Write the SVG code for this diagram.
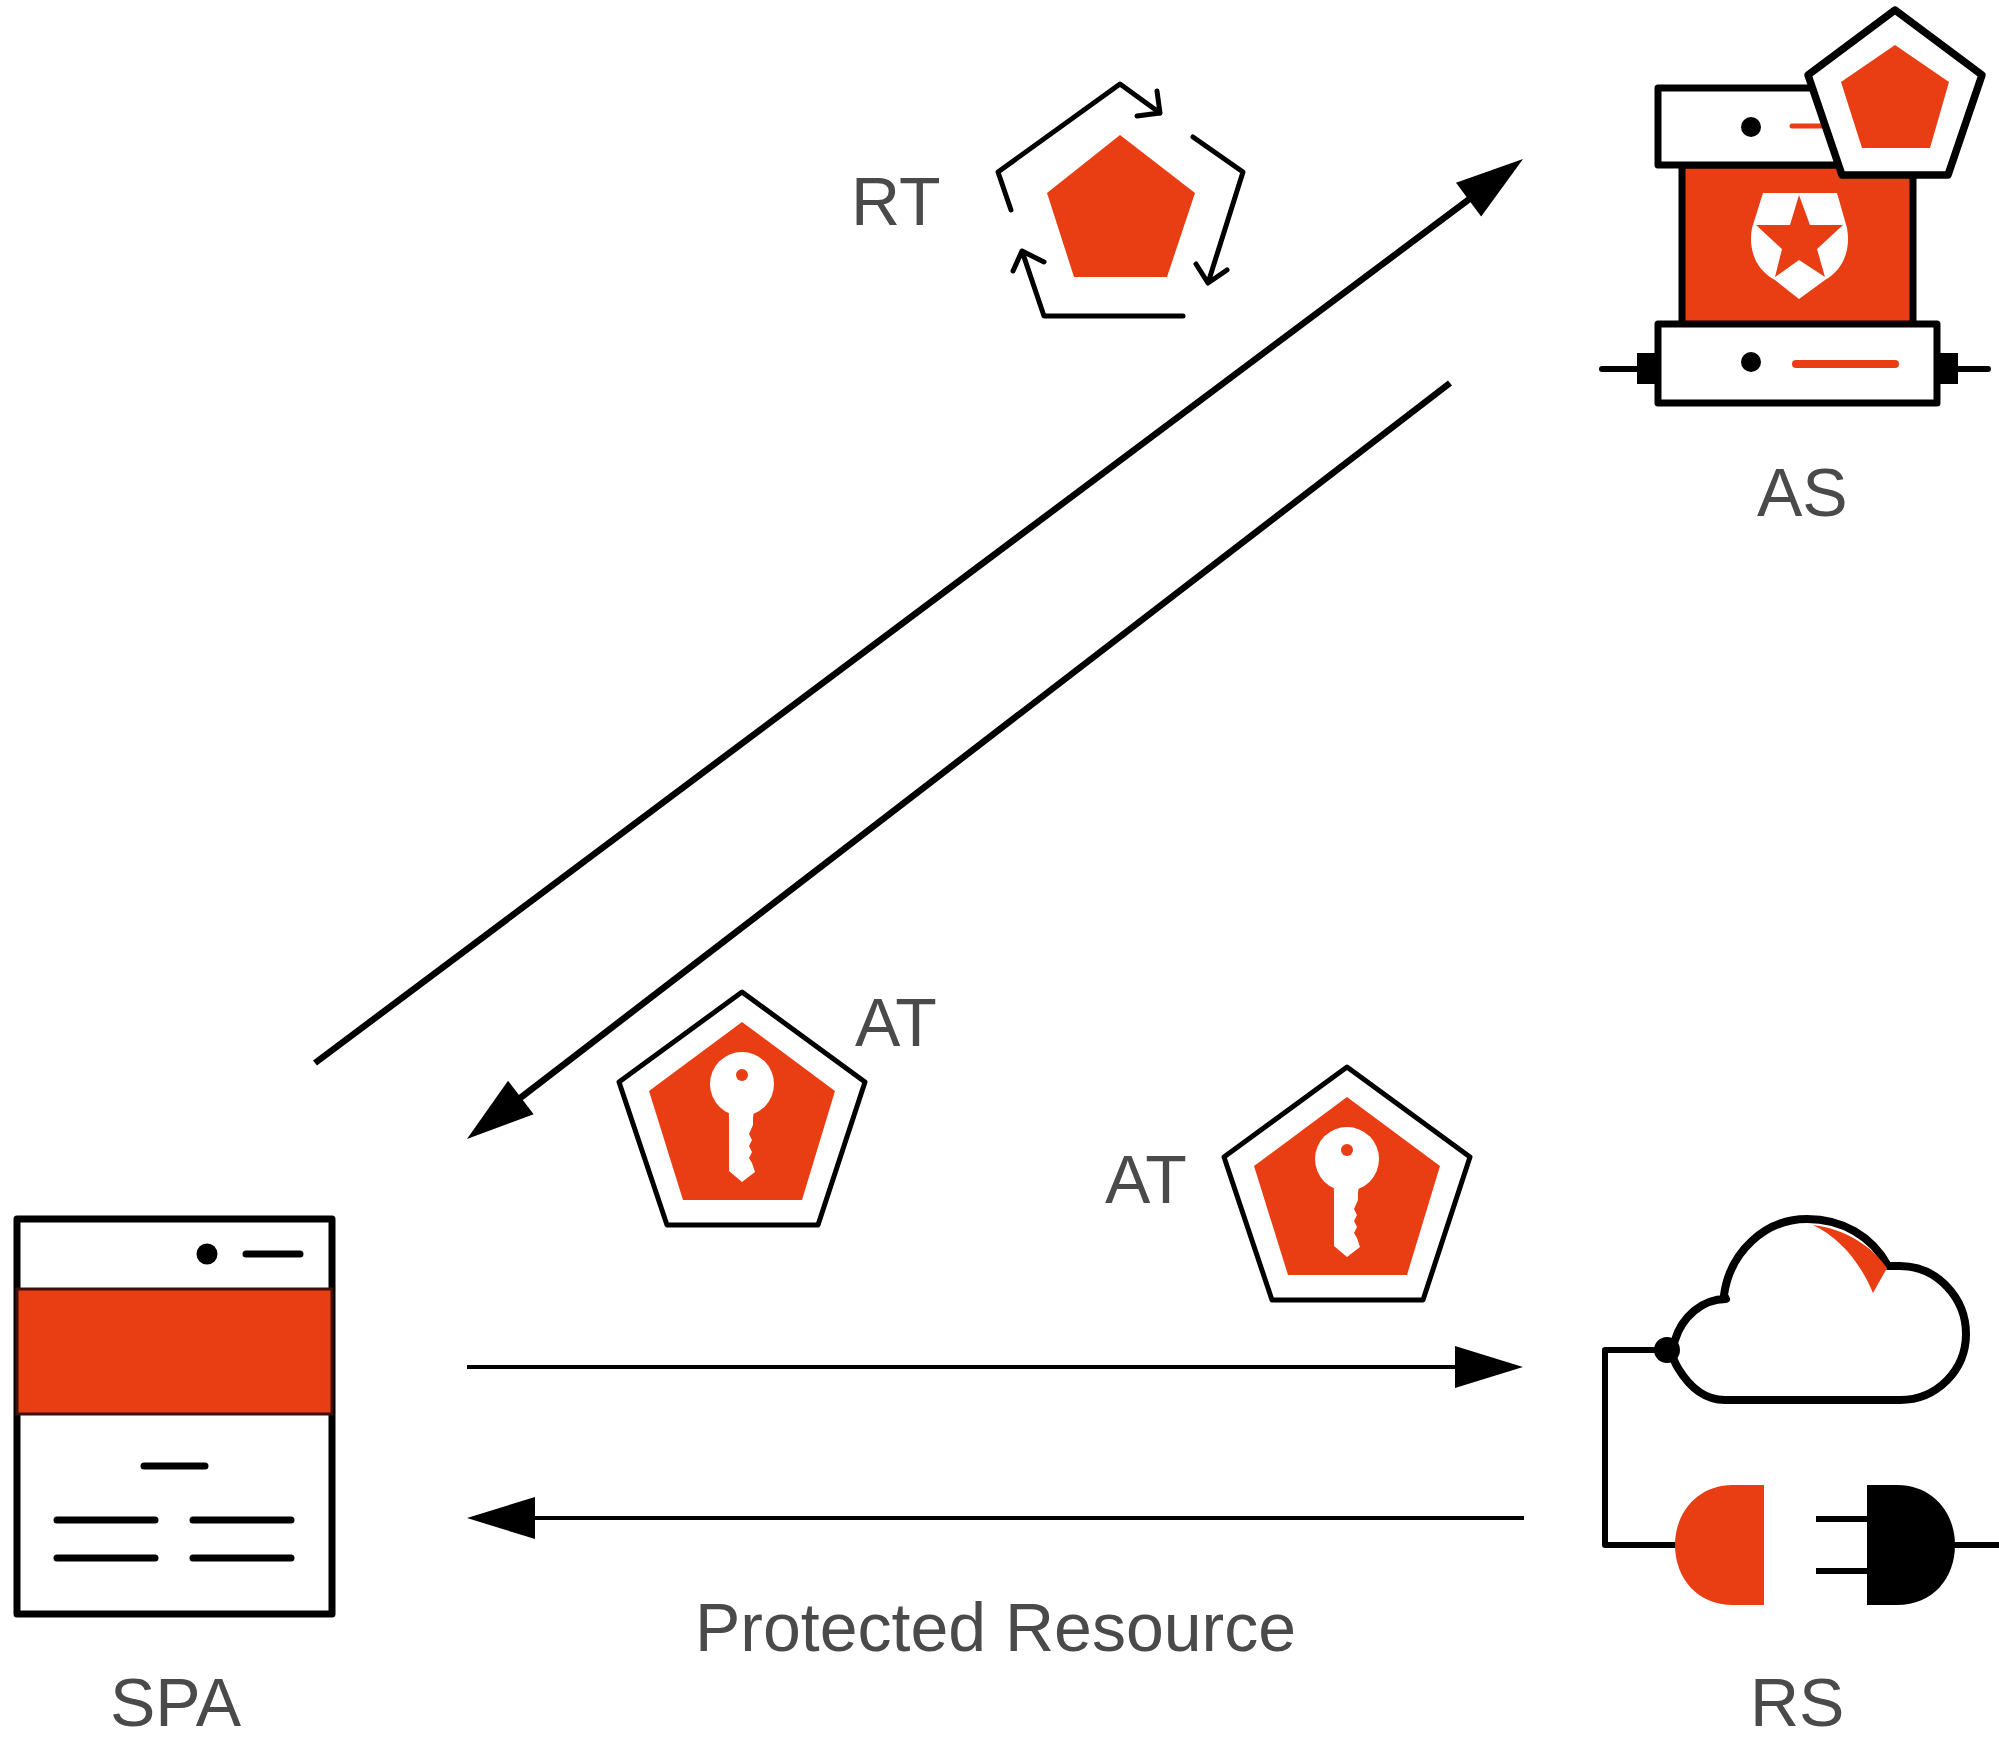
<svg xmlns="http://www.w3.org/2000/svg" width="1999" height="1738" viewBox="0 0 1999 1738">
<style>
.t{font-family:"Liberation Sans",Arial,sans-serif;font-size:68px;fill:#4a4a4a}
.o{fill:#e93d14}
.k{fill:#000}
.s{fill:none;stroke:#000;stroke-linecap:round;stroke-linejoin:round}
.box{fill:#fff;stroke:#000;stroke-width:7;stroke-linejoin:round}
.conn{fill:none;stroke:#000}
</style>
<defs>
<marker id="head" markerUnits="userSpaceOnUse" markerWidth="70" markerHeight="44" refX="20" refY="22" orient="auto" viewBox="0 0 68 44"><path d="M0 1L68 22L0 43Z" fill="#000"/></marker>
<g id="tokenKey">
<polygon points="742,992 865,1082 818,1225 667,1225 619,1082" fill="#fff" stroke="#000" stroke-width="5" stroke-linejoin="round"/>
<polygon class="o" points="742,1022 835,1091 802,1200 683,1200 649,1091"/>
<circle cx="742" cy="1084" r="32" fill="#fff"/>
<path d="M728 1105Q729 1111 729 1118V1171L742 1182L755 1172L752 1163L749 1158L752 1152L749 1146L752 1140L749 1134L753 1125V1118Q753 1111 756 1105Z" fill="#fff"/>
<circle class="o" cx="742" cy="1075" r="6"/>
</g>
</defs>
<rect width="1999" height="1738" fill="#fff"/>
<g id="connectors">
<line class="conn" stroke-width="6.5" x1="315" y1="1063" x2="1484.6" y2="187.7" marker-end="url(#head)"/>
<line class="conn" stroke-width="6.5" x1="1450" y1="383" x2="505" y2="1109.7" marker-end="url(#head)"/>
<line class="conn" stroke-width="4" x1="467" y1="1367" x2="1475" y2="1367" marker-end="url(#head)"/>
<line class="conn" stroke-width="4" x1="1524" y1="1518" x2="515" y2="1518" marker-end="url(#head)"/>
</g>
<g id="as">
<path class="s" stroke-width="6" d="M1602 369H1640M1940 369H1988"/>
<rect class="k" x="1637" y="353" width="23" height="31"/>
<rect class="k" x="1936" y="353" width="22" height="31"/>
<rect x="1682" y="165" width="231" height="160" fill="#e93d14" stroke="#000" stroke-width="7"/>
<rect class="box" x="1658" y="88" width="200" height="77"/>
<rect class="box" x="1658" y="324" width="279" height="79"/>
<circle class="k" cx="1751" cy="127" r="10"/>
<circle class="k" cx="1751" cy="362" r="10"/>
<path fill="none" stroke="#e93d14" stroke-width="5" stroke-linecap="round" d="M1792 126H1825"/>
<path fill="none" stroke="#e93d14" stroke-width="8" stroke-linecap="round" d="M1796 364H1895"/>
<path fill="#fff" d="M1763 193H1837L1847 228C1851 250 1843 270 1825 280L1799 299L1775 280C1756 270 1748 250 1752 228Z"/>
<polygon class="o" points="1799,195 1810,225 1843,225 1817,249 1825,277 1799,260 1775,277 1782,249 1756,225 1790,225"/>
<polygon points="1895,10 1982,75 1948,175 1842,175 1808,75" fill="#fff" stroke="#000" stroke-width="7.5" stroke-linejoin="round"/>
<polygon class="o" points="1895,45 1949,82 1930,148 1862,148 1841,82"/>
<text class="t" x="1757" y="516">AS</text>
</g>
<g id="rt">
<polygon class="o" points="1120,135 1195,193 1167,277 1074,277 1047,193"/>
<path class="s" stroke-width="5" d="M1011 210L998 172L1120 84L1160 113M1157 91L1160 113L1137 116"/>
<path class="s" stroke-width="5" d="M1193 137L1243 172L1208 283M1196 264L1208 283L1227 270"/>
<path class="s" stroke-width="5" d="M1183 316H1044L1022 251M1013 271L1022 251L1044 262"/>
<text class="t" x="851" y="225">RT</text>
</g>
<g id="at1">
<use href="#tokenKey"/>
<text class="t" x="855" y="1046">AT</text>
</g>
<g id="at2">
<use href="#tokenKey" transform="translate(605,75)"/>
<text class="t" x="1105" y="1203">AT</text>
</g>
<g id="spa">
<rect class="box" x="17" y="1219" width="315" height="395"/>
<rect x="17" y="1289" width="315" height="125" fill="#e93d14" stroke="#3a120a" stroke-width="3"/>
<circle class="k" cx="207" cy="1254" r="10.5"/>
<path class="s" stroke-width="7" d="M246 1254H300M144 1466H205M57 1520H155M193 1520H291M57 1558H155M193 1558H291"/>
<text class="t" x="110" y="1726">SPA</text>
</g>
<g id="rs">
<path fill="#fff" stroke="#000" stroke-width="8" stroke-linejoin="round" d="M1725 1400H1900C1937 1400 1966 1370 1966 1334C1966 1298 1937 1266 1900 1266H1888C1872 1236 1842 1219 1807 1219C1765 1219 1730 1252 1724 1295L1726 1299C1702 1299 1682 1317 1675 1340C1671 1352 1672 1358 1678 1368C1690 1388 1705 1400 1725 1400Z"/>
<path class="o" d="M1813 1225C1845 1229 1872 1246 1887 1268L1873 1293C1860 1262 1840 1238 1813 1225Z"/>
<circle class="k" cx="1667" cy="1350" r="13"/>
<path class="s" stroke-width="6" d="M1665 1350H1605V1545H1680"/>
<path class="o" d="M1764 1485V1605H1733C1697 1605 1675 1578 1675 1545C1675 1513 1697 1485 1733 1485Z"/>
<path class="k" d="M1867 1485V1605H1897C1933 1605 1955 1578 1955 1545C1955 1513 1933 1485 1897 1485Z"/>
<path fill="none" stroke="#000" stroke-width="6" d="M1816 1519H1867M1816 1571H1867M1950 1545H1999"/>
<text class="t" x="1750" y="1726">RS</text>
</g>
<text class="t" x="695" y="1651" id="protected-resource">Protected Resource</text>
</svg>
